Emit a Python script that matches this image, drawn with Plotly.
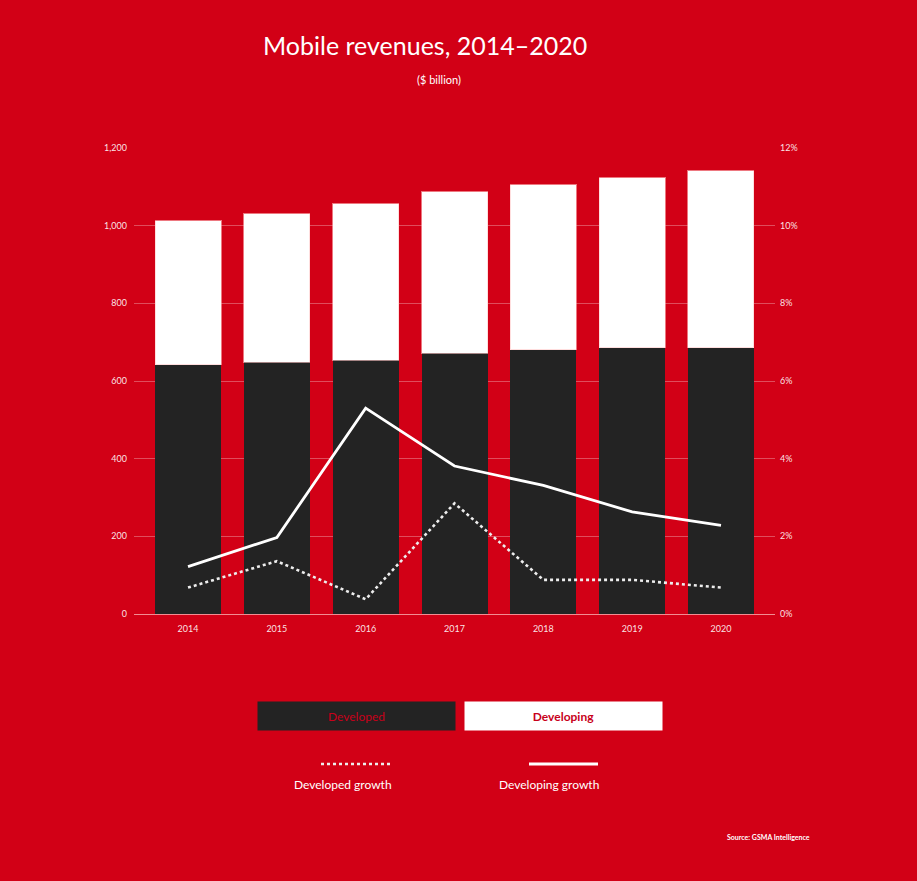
import plotly.graph_objects as go

years = ["2014", "2015", "2016", "2017", "2018", "2019", "2020"]
developed = [642, 648, 654, 672, 680, 685, 685]
developing = [371, 383, 402, 415, 425, 438, 456]
developed_growth = [0.68, 1.36, 0.38, 2.85, 0.88, 0.88, 0.68]
developing_growth = [1.22, 1.97, 5.30, 3.81, 3.31, 2.63, 2.28]
left_ticks = [0, 200, 400, 600, 800, 1000, 1200]
left_labels = ["0", "200", "400", "600", "800", "1,000", "1,200"]
right_ticks = [0, 2, 4, 6, 8, 10, 12]
right_labels = ["0%", "2%", "4%", "6%", "8%", "10%", "12%"]

RED = "#D20016"
DARK = "#232323"
FONT = "Lato, 'Open Sans', sans-serif"
TICK = "rgba(255,255,255,0.9)"

fig = go.Figure()
fig.add_trace(go.Bar(x=years, y=developed, name="Developed",
                     marker=dict(color=DARK, line=dict(width=0))))
fig.add_trace(go.Bar(x=years, y=developing, name="Developing",
                     marker=dict(color="#FFFFFF", line=dict(color="rgba(255,200,200,0.6)", width=1))))
fig.add_trace(go.Scatter(x=years, y=developed_growth, name="Developed growth", yaxis="y2",
                         mode="lines", line=dict(color="#EDEDED", width=2.6, dash="dot")))
fig.add_trace(go.Scatter(x=years, y=developing_growth, name="Developing growth", yaxis="y2",
                         mode="lines", line=dict(color="#FFFFFF", width=2.8)))

fig.update_layout(
    width=917, height=881,
    paper_bgcolor=RED, plot_bgcolor=RED,
    margin=dict(l=134, r=142, t=148, b=267),
    barmode="stack", bargap=0.257,
    showlegend=False,
    font=dict(family=FONT, color="white"),
    xaxis=dict(type="category", range=[-0.608, 6.608], showgrid=False,
               showline=True, linecolor="rgba(255,200,200,0.7)", linewidth=1,
               tickfont=dict(size=9, color=TICK), ticks="", ticklabelstandoff=6),
    yaxis=dict(range=[0, 1200], tickvals=left_ticks, ticktext=left_labels,
               showgrid=True, gridcolor="rgba(255,255,255,0.3)", gridwidth=1,
               zeroline=False, tickfont=dict(size=9, color=TICK), ticks="",
               ticklabelstandoff=6),
    yaxis2=dict(range=[0, 12], tickvals=right_ticks, ticktext=right_labels,
                overlaying="y", side="right", showgrid=False, zeroline=False,
                tickfont=dict(size=9, color=TICK), ticks="", ticklabelstandoff=4),
)

def px(x):
    return (x - 134) / 641

def py(y):
    return (614 - y) / 466

ann = []
ann.append(dict(text="Mobile revenues, 2014–2020", x=px(425), y=py(45), xref="paper", yref="paper",
                xanchor="center", yanchor="middle", showarrow=False,
                font=dict(size=25, color="white", family=FONT)))
ann.append(dict(text="($ billion)", x=px(439), y=py(79), xref="paper", yref="paper",
                xanchor="center", yanchor="middle", showarrow=False,
                font=dict(size=11, color="white", family=FONT)))
ann.append(dict(text="Developed", x=px(356), y=py(716), xref="paper", yref="paper",
                xanchor="center", yanchor="middle", showarrow=False, width=197, height=28,
                bgcolor=DARK, borderpad=0,
                font=dict(size=12, color="#C8001A", family=FONT)))
ann.append(dict(text="<b>Developing</b>", x=px(563), y=py(716), xref="paper", yref="paper",
                xanchor="center", yanchor="middle", showarrow=False, width=197, height=28,
                bgcolor="#FFFFFF", borderpad=0,
                font=dict(size=12, color="#C8001A", family=FONT)))
ann.append(dict(text="Developed growth", x=px(343), y=py(784), xref="paper", yref="paper",
                xanchor="center", yanchor="middle", showarrow=False,
                font=dict(size=12, color="white", family=FONT)))
ann.append(dict(text="Developing growth", x=px(549), y=py(784), xref="paper", yref="paper",
                xanchor="center", yanchor="middle", showarrow=False,
                font=dict(size=12, color="white", family=FONT)))
ann.append(dict(text="<b>Source: GSMA Intelligence</b>", x=px(812), y=py(837), xref="paper", yref="paper",
                xanchor="right", yanchor="middle", showarrow=False,
                font=dict(size=7, color="white", family=FONT)))
fig.update_layout(annotations=ann)

fig.add_shape(type="line", xref="paper", yref="paper", x0=px(321), x1=px(393), y0=py(764), y1=py(764),
              line=dict(color="#EDEDED", width=2.6, dash="dot"))
fig.add_shape(type="line", xref="paper", yref="paper", x0=px(529), x1=px(598), y0=py(764), y1=py(764),
              line=dict(color="#FFFFFF", width=2.8))

fig.write_html("out.html")
